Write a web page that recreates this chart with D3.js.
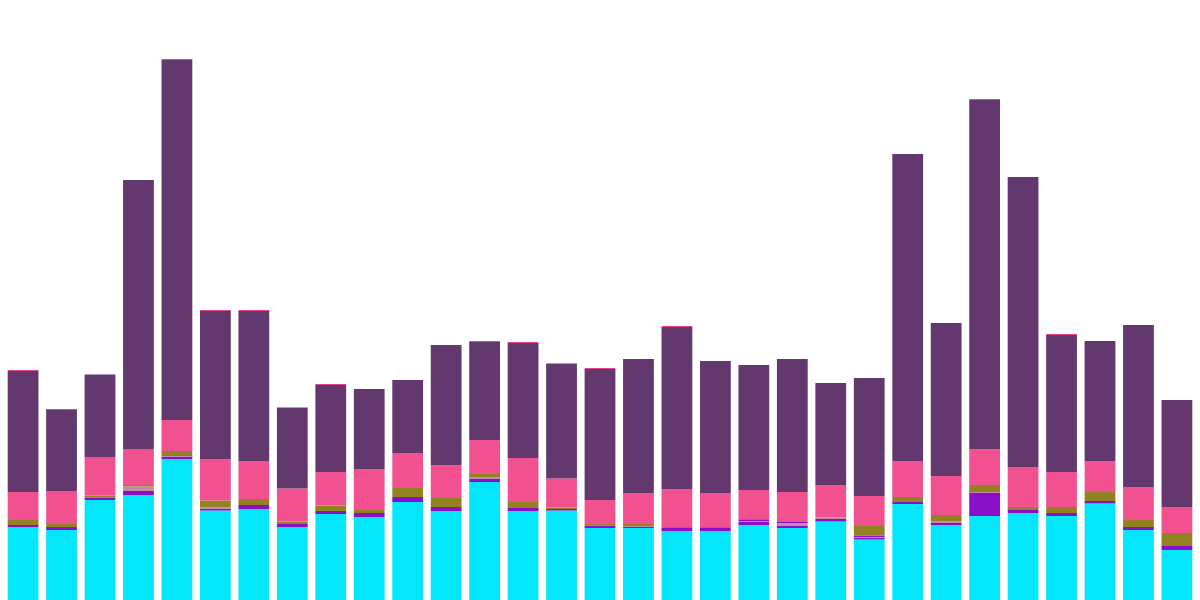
<!DOCTYPE html>
<html>
<head>
<meta charset="utf-8">
<script src="https://cdn.jsdelivr.net/npm/d3@7"></script>
<style>
  html, body { margin: 0; padding: 0; background: #fff; }
  #chart { width: 1200px; height: 600px; }
</style>
</head>
<body>
<div id="chart"></div>
<script>
var chartWidth = 1200;
var chartHeight = 600;

// series, bottom to top
var keys = ['cyan', 'violet', 'mauve', 'violet2', 'olive', 'pink', 'plum', 'rose'];
var barColors = ['#04e6f9', '#8a0fc8', '#c48aa6', '#8a0fc8', '#928222', '#f25190', '#62386f', '#e8468c'];

var cyan    = [73, 70, 100, 105, 141, 89.5, 91, 73, 86, 83, 98, 89, 118, 89, 89.5, 72, 72, 69, 69, 75, 72, 78.5, 60.5, 96, 75, 84, 87, 84, 96.5, 70, 50];
var violet  = [2, 3, 2.5, 4, 2.5, 2, 4, 3, 3, 4, 5, 4, 3.5, 3, 1.5, 2.5, 1, 3, 3, 3, 2, 2.5, 2, 2, 2, 23, 3, 3, 2.5, 3, 4];
var mauve   = [0, 0, 0, 4.5, 0.5, 1, 0, 0, 0, 0, 0, 0, 1.5, 0, 0, 0, 1, 0, 0, 1, 3, 1.5, 0.5, 0, 1.5, 1, 0, 0, 0, 0, 0];
var violet2 = [0, 0, 0, 0, 0, 0, 0, 0, 0, 0, 0, 0, 0, 0, 0, 0, 0, 0, 0, 1, 1, 0, 1.5, 0, 0, 0, 0, 0, 0, 0, 0];
var olive   = [5, 3, 2, 1.5, 5, 7, 6, 2.5, 5.5, 3, 9, 9, 3, 6, 1.5, 1.5, 2, 1, 1, 1, 0, 0, 9.5, 5, 6.5, 7, 3, 6, 9, 7, 13];
var pink    = [28, 33, 38, 35.5, 31, 41.5, 38, 33, 33.5, 41, 35, 33, 34, 44, 29, 24, 31, 38, 34, 29, 30, 32.5, 30, 36, 39, 36, 40, 35, 31, 33, 26];
var plum    = [121, 81, 83, 269.5, 360, 148, 150, 81, 87, 80, 73, 120, 98, 115, 115, 131, 134, 162, 132, 125, 133, 102, 118, 307, 153, 349, 290, 137, 120, 162, 107];
var rose    = [1, 1, 0, 0, 1, 1, 1, 0, 1, 0, 0, 0, 1, 1, 0, 1, 0, 1, 0, 0, 0, 0, 0, 0, 0, 1, 0, 1, 0, 0, 0];

var seriesValues = [cyan, violet, mauve, violet2, olive, pink, plum, rose];

var color = d3.scaleOrdinal()
    .domain(keys)
    .range(barColors);

function drawStackedBars() {
    // build rows for d3.stack from the series arrays
    let rows = cyan.map(function (d, i) {
        let row = { idx: i };
        keys.forEach(function (k, j) {
            row[k] = seriesValues[j][i];
        });
        return row;
    });

    let svg = d3.select('#chart')
        .append('svg')
        .attr('width', chartWidth)
        .attr('height', chartHeight);

    let x = d3.scaleBand()
        .domain(rows.map(function (d) { return d.idx; }))
        .range([0, chartWidth])
        .paddingInner(0.2)
        .paddingOuter(0.2);

    let y = d3.scaleLinear()
        .domain([0, 600])
        .range([chartHeight, 0]);

    let stacked = d3.stack().keys(keys)(rows);

    let layers = svg.selectAll('.layer')
        .data(stacked)
        .enter()
        .append('g')
        .attr('class', 'layer')
        .attr('fill', function (d) { return color(d.key); });

    layers.selectAll('rect')
        .data(function (d) { return d; })
        .enter()
        .append('rect')
        .attr('x', function (d) { return x(d.data.idx); })
        .attr('width', x.bandwidth())
        .attr('y', function (d) { return y(d[1]); })
        .attr('height', function (d) { return Math.max(0, y(d[0]) - y(d[1])); });
}

drawStackedBars();
</script>
</body>
</html>
